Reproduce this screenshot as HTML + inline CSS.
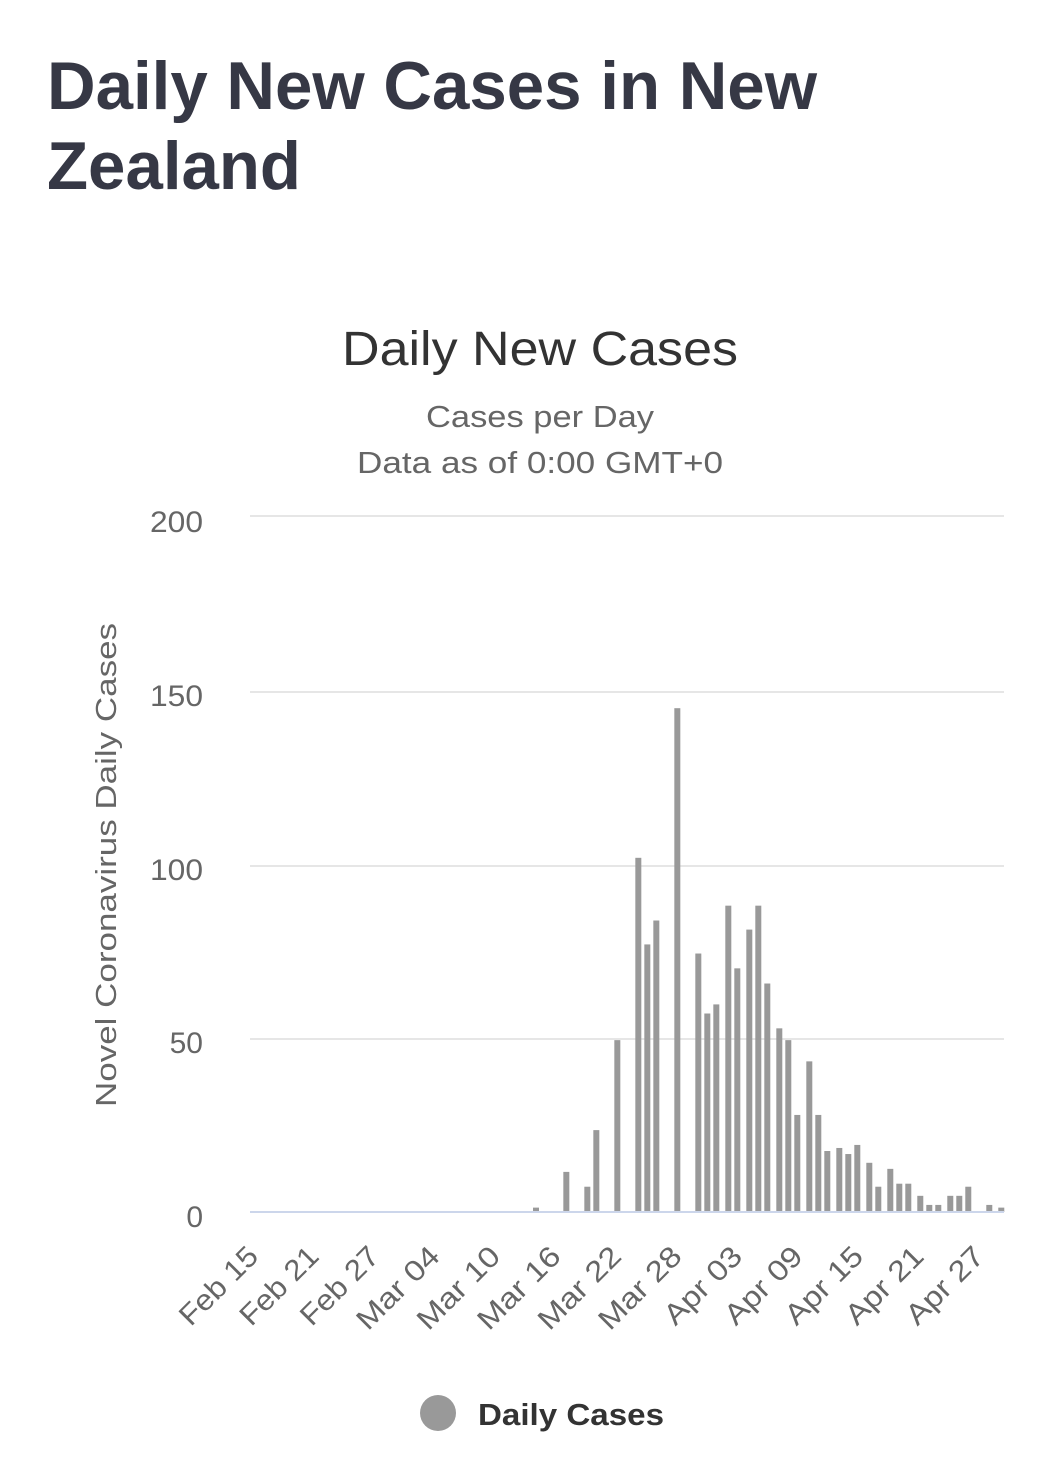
<!DOCTYPE html>
<html><head><meta charset="utf-8"><style>
html,body{margin:0;padding:0;background:#fff;}
svg{display:block;font-family:"Liberation Sans",sans-serif;}
</style></head><body>
<svg width="1054" height="1466" viewBox="0 0 1054 1466" xmlns="http://www.w3.org/2000/svg">
<text x="47" y="109" font-size="68" font-weight="bold" fill="#363845" textLength="770" lengthAdjust="spacingAndGlyphs">Daily New Cases in New</text>
<text x="47" y="189" font-size="68" font-weight="bold" fill="#363845" textLength="254" lengthAdjust="spacingAndGlyphs">Zealand</text>
<text x="540" y="365" font-size="48" fill="#333" text-anchor="middle" textLength="396" lengthAdjust="spacingAndGlyphs">Daily New Cases</text>
<text x="540" y="427" font-size="31" fill="#666" text-anchor="middle" textLength="228" lengthAdjust="spacingAndGlyphs">Cases per Day</text>
<text x="540" y="473" font-size="31" fill="#666" text-anchor="middle" textLength="366" lengthAdjust="spacingAndGlyphs">Data as of 0:00 GMT+0</text>
<g stroke="#e6e6e6" stroke-width="2">
<line x1="250" y1="516" x2="1004" y2="516"/>
<line x1="250" y1="692" x2="1004" y2="692"/>
<line x1="250" y1="866" x2="1004" y2="866"/>
<line x1="250" y1="1039" x2="1004" y2="1039"/>
</g>
<g font-size="30" fill="#666" text-anchor="end">
<text x="203" y="532" textLength="53" lengthAdjust="spacingAndGlyphs">200</text>
<text x="203" y="706" textLength="53" lengthAdjust="spacingAndGlyphs">150</text>
<text x="203" y="880" textLength="53" lengthAdjust="spacingAndGlyphs">100</text>
<text x="203" y="1053">50</text>
<text x="203" y="1227">0</text>
</g>
<text transform="translate(116,865) rotate(-90)" font-size="29" fill="#666" text-anchor="middle" textLength="484" lengthAdjust="spacingAndGlyphs">Novel Coronavirus Daily Cases</text>
<g fill="#999" transform="translate(519,1212) scale(0.3333,0.337)">
<rect x="42" y="-13" width="18" height="13"/>
<rect x="133" y="-119" width="18" height="119"/>
<rect x="196" y="-75" width="18" height="75"/>
<rect x="223" y="-243" width="18" height="243"/>
<rect x="286" y="-510" width="18" height="510"/>
<rect x="349" y="-1051" width="18" height="1051"/>
<rect x="376" y="-794" width="18" height="794"/>
<rect x="403" y="-865" width="18" height="865"/>
<rect x="466" y="-1495" width="18" height="1495"/>
<rect x="529" y="-767" width="18" height="767"/>
<rect x="556" y="-589" width="18" height="589"/>
<rect x="583" y="-616" width="18" height="616"/>
<rect x="619" y="-909" width="18" height="909"/>
<rect x="646" y="-723" width="18" height="723"/>
<rect x="682" y="-838" width="18" height="838"/>
<rect x="709" y="-909" width="18" height="909"/>
<rect x="736" y="-678" width="18" height="678"/>
<rect x="772" y="-545" width="18" height="545"/>
<rect x="799" y="-510" width="18" height="510"/>
<rect x="826" y="-288" width="18" height="288"/>
<rect x="862" y="-447" width="18" height="447"/>
<rect x="889" y="-288" width="18" height="288"/>
<rect x="916" y="-181" width="18" height="181"/>
<rect x="952" y="-190" width="18" height="190"/>
<rect x="979" y="-172" width="18" height="172"/>
<rect x="1006" y="-199" width="18" height="199"/>
<rect x="1042" y="-146" width="18" height="146"/>
<rect x="1069" y="-75" width="18" height="75"/>
<rect x="1105" y="-128" width="18" height="128"/>
<rect x="1132" y="-84" width="18" height="84"/>
<rect x="1159" y="-84" width="18" height="84"/>
<rect x="1195" y="-48" width="18" height="48"/>
<rect x="1222" y="-21" width="18" height="21"/>
<rect x="1249" y="-21" width="18" height="21"/>
<rect x="1285" y="-48" width="18" height="48"/>
<rect x="1312" y="-48" width="18" height="48"/>
<rect x="1339" y="-75" width="18" height="75"/>
<rect x="1402" y="-21" width="18" height="21"/>
<rect x="1438" y="-13" width="18" height="13"/>
</g>
<line x1="250" y1="1212" x2="1004" y2="1212" stroke="#ccd6eb" stroke-width="2"/>
<g font-size="29" fill="#666" text-anchor="end">
<text transform="translate(260,1258) rotate(-45)" textLength="98" lengthAdjust="spacingAndGlyphs">Feb 15</text>
<text transform="translate(320.5,1258) rotate(-45)" textLength="98" lengthAdjust="spacingAndGlyphs">Feb 21</text>
<text transform="translate(381,1258) rotate(-45)" textLength="98" lengthAdjust="spacingAndGlyphs">Feb 27</text>
<text transform="translate(441.5,1258) rotate(-45)" textLength="104" lengthAdjust="spacingAndGlyphs">Mar 04</text>
<text transform="translate(502,1258) rotate(-45)" textLength="104" lengthAdjust="spacingAndGlyphs">Mar 10</text>
<text transform="translate(562.5,1258) rotate(-45)" textLength="104" lengthAdjust="spacingAndGlyphs">Mar 16</text>
<text transform="translate(623,1258) rotate(-45)" textLength="104" lengthAdjust="spacingAndGlyphs">Mar 22</text>
<text transform="translate(683.5,1258) rotate(-45)" textLength="104" lengthAdjust="spacingAndGlyphs">Mar 28</text>
<text transform="translate(744,1258) rotate(-45)" textLength="97" lengthAdjust="spacingAndGlyphs">Apr 03</text>
<text transform="translate(804.5,1258) rotate(-45)" textLength="97" lengthAdjust="spacingAndGlyphs">Apr 09</text>
<text transform="translate(865,1258) rotate(-45)" textLength="97" lengthAdjust="spacingAndGlyphs">Apr 15</text>
<text transform="translate(925.5,1258) rotate(-45)" textLength="97" lengthAdjust="spacingAndGlyphs">Apr 21</text>
<text transform="translate(986,1258) rotate(-45)" textLength="97" lengthAdjust="spacingAndGlyphs">Apr 27</text>
</g>
<circle cx="438" cy="1413" r="18" fill="#999"/>
<text x="478" y="1425" font-size="31" font-weight="bold" fill="#333" textLength="186" lengthAdjust="spacingAndGlyphs">Daily Cases</text>
</svg>
</body></html>
